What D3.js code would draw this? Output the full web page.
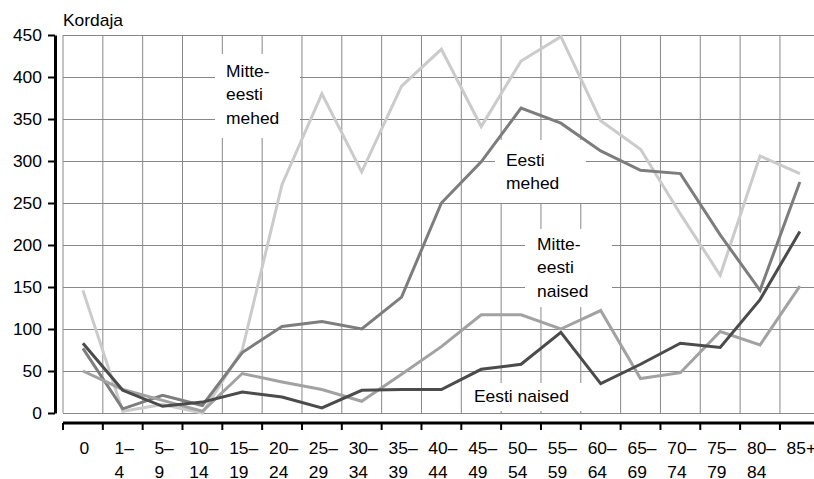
<!DOCTYPE html>
<html><head><meta charset="utf-8">
<script src="https://cdn.jsdelivr.net/npm/d3@7"></script>
<style>
body{margin:0;background:#fff}
svg{display:block}
text{font-family:"Liberation Sans",Arial,sans-serif;font-size:16px;fill:#000}
</style>
</head><body>
<svg id="c" width="814" height="479"></svg>
<script>
const categories = ["0","1–4","5–9","10–14","15–19","20–24","25–29","30–34","35–39","40–44","45–49","50–54","55–59","60–64","65–69","70–74","75–79","80–84","85+"];
const mitteEestiMehed  = [146, 2, 10, 0, 75, 272, 380, 287, 389, 433, 341, 419, 448, 348, 314, 237, 164, 306, 285];
const eestiMehed       = [77, 5, 21, 9, 72, 103, 109, 100, 138, 250, 299, 363, 345, 312, 289, 285, 212, 146, 275];
const mitteEestiNaised = [50, 28, 15, 2, 47, 37, 28, 14, 46, 79, 117, 117, 100, 122, 41, 48, 97, 81, 151];
const eestiNaised      = [83, 27, 8, 13, 25, 19, 6, 27, 28, 28, 52, 58, 96, 35, 58, 83, 78, 135, 216];
const yTicks = [0, 50, 100, 150, 200, 250, 300, 350, 400, 450];
const yTitle = "Kordaja";
const seriesNames = ["Mitte-eesti mehed", "Eesti mehed", "Mitte-eesti naised", "Eesti naised"];

const SX = 1.09; // horizontal stretch of the original typography
const svg = d3.select("#c");
const x = d3.scaleBand().domain(categories).range([63, 63 + 19 * 39.83]).padding(0);
const y = d3.scaleLinear().domain([0, 450]).range([413, 35]);
const cx = d => x(d) + x.bandwidth() / 2;

// grid
const grid = svg.append("g");
yTicks.forEach(t => {
  grid.append("line").attr("x1", 63).attr("x2", 814)
    .attr("y1", Math.round(y(t)) + 0.5).attr("y2", Math.round(y(t)) + 0.5)
    .attr("stroke", "#888").attr("stroke-width", 1);
});
categories.forEach(c => {
  grid.append("line").attr("x1", x(c)).attr("x2", x(c))
    .attr("y1", y(450)).attr("y2", y(0))
    .attr("stroke", "#888").attr("stroke-width", 1);
});

// label backgrounds
const labels = [
  {lines: ["Mitte-", "eesti", "mehed"], box: [215, 54, 85, 84], tx: 226, ty: 77},
  {lines: ["Eesti", "mehed"], box: [495, 140, 91, 63], tx: 506, ty: 166},
  {lines: ["Mitte-", "eesti", "naised"], box: [525, 229, 87, 78], tx: 537, ty: 250},
  {lines: ["Eesti naised"], box: [468, 383, 124, 28], tx: 474, ty: 401.5}
];
labels.forEach(l => {
  svg.append("rect").attr("x", l.box[0]).attr("y", l.box[1])
    .attr("width", l.box[2]).attr("height", l.box[3]).attr("fill", "#fff");
});

// series
const series = [
  {v: mitteEestiMehed, c: "#cbcbcb"},
  {v: eestiMehed, c: "#7d7d7d"},
  {v: mitteEestiNaised, c: "#a2a2a2"},
  {v: eestiNaised, c: "#4b4b4b"}
];
const line = d3.line().x((d, i) => cx(categories[i])).y(d => y(d));
series.forEach(s => {
  svg.append("path").datum(s.v).attr("d", line)
    .attr("fill", "none").attr("stroke", s.c).attr("stroke-width", 3)
    .attr("stroke-linejoin", "miter");
});

// series labels
labels.forEach(l => {
  const t = svg.append("text").attr("transform", `translate(${l.tx},${l.ty}) scale(${SX},1)`);
  l.lines.forEach((ln, i) => t.append("tspan").attr("x", 0).attr("y", i * 23.5).text(ln));
});

// y axis
const yAxis = d3.axisLeft(y).tickValues(yTicks).tickSize(7).tickSizeOuter(0).tickPadding(6);
const ya = svg.append("g").attr("transform", "translate(55,0)").call(yAxis);
ya.select(".domain").attr("stroke", "#000").attr("stroke-width", 3);
ya.selectAll(".tick line").attr("stroke", "#000").attr("stroke-width", 2);
ya.selectAll(".tick text").attr("x", null).attr("dy", null)
  .attr("transform", `translate(-13,5.5) scale(${SX},1)`)
  .style("font-size", "16px").style("font-family", '"Liberation Sans",Arial,sans-serif').attr("fill", "#000");

svg.append("text").attr("transform", `translate(63,26) scale(${SX},1)`).text(yTitle);

// x axis
const xa = svg.append("g");
xa.append("line").attr("x1", 63).attr("x2", 814).attr("y1", 423).attr("y2", 423)
  .attr("stroke", "#000").attr("stroke-width", 3);
categories.forEach(c => {
  xa.append("line").attr("x1", x(c)).attr("x2", x(c)).attr("y1", 423).attr("y2", 430)
    .attr("stroke", "#000").attr("stroke-width", 2);
  const parts = c.includes("–") ? [c.split("–")[0] + "–", c.split("–")[1]] : [c];
  const t = xa.append("text");
  parts.forEach((p, i) => t.append("tspan").attr("x", 0).attr("y", i * 24).text(p));
  const w = t.select("tspan").node().getComputedTextLength() * SX;
  t.attr("transform", `translate(${cx(c) + 1.5 - w / 2},454) scale(${SX},1)`);
});
</script>
</body></html>
